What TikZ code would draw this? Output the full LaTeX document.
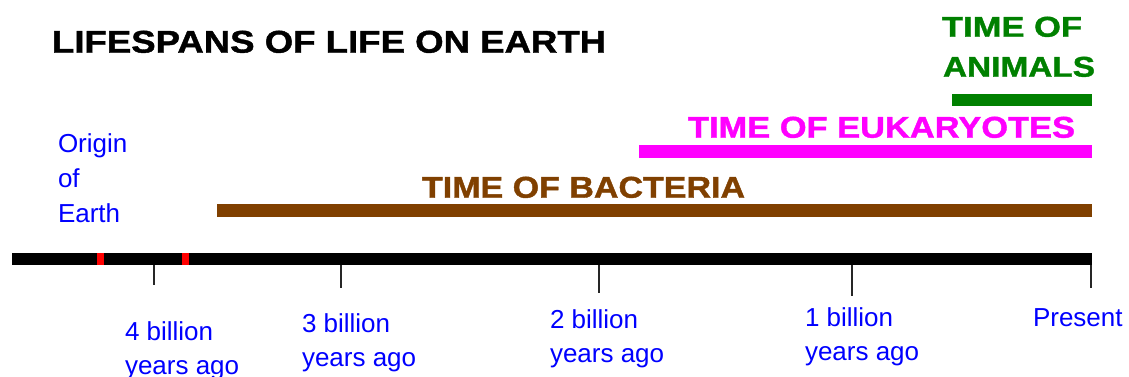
\documentclass[tikz,border=0pt]{standalone}
\usepackage{fontspec}
\usepackage{graphicx}
\setmainfont{Liberation Sans}
\newfontfamily\heavyfont[FakeBold=1.2]{Liberation Sans Bold}
\definecolor{tlblue}{RGB}{0,0,255}
\definecolor{bactbrown}{RGB}{128,64,0}
\definecolor{eukmag}{RGB}{255,0,255}
\definecolor{anigreen}{RGB}{0,128,0}
\definecolor{tlred}{RGB}{255,0,0}
\newcommand{\capsfit}[3]{\resizebox{#1pt}{#2pt}{\heavyfont #3}}
\begin{document}
\begin{tikzpicture}[x=1pt,y=-1pt,
  bar/.style={rectangle,inner sep=0pt,outer sep=0pt,anchor=north west},
  caps/.style={inner sep=0pt,outer sep=0pt,anchor=south west},
  bluetext/.style={inner sep=0pt,outer sep=0pt,anchor=base west,text=tlblue,font=\fontsize{26}{34}\selectfont,align=left},
  tick/.style={line width=2.8pt,black!85}]
\useasboundingbox[fill=white] (0,0) rectangle (1129,377);
% title
\node[caps] (title) at (52,53) {\capsfit{554}{22}{LIFESPANS OF LIFE ON EARTH}};
% bars
\node[bar,fill=black,minimum width=1080pt,minimum height=12pt] (timeline) at (12,253) {};
\node[bar,fill=tlred,minimum width=7pt,minimum height=12pt] (red1) at (97,253) {};
\node[bar,fill=tlred,minimum width=7pt,minimum height=12pt] (red2) at (182,253) {};
\node[bar,fill=bactbrown,minimum width=875pt,minimum height=13pt] (bact) at (217,204) {};
\node[bar,fill=eukmag,minimum width=453pt,minimum height=13pt] (euk) at (639,145) {};
\node[bar,fill=anigreen,minimum width=140pt,minimum height=12pt] (ani) at (952,94) {};
% bar labels
\node[caps,text=bactbrown] (bactlbl) at (422,198) {\capsfit{323}{21}{TIME OF BACTERIA}};
\node[caps,text=eukmag] (euklbl) at (688,138) {\capsfit{387}{21}{TIME OF EUKARYOTES}};
\node[caps,text=anigreen] (anilbl1) at (942,37) {\capsfit{140}{20}{TIME OF}};
\node[caps,text=anigreen] (anilbl2) at (943,77) {\capsfit{152}{20}{ANIMALS}};
% ticks
\coordinate (t4top) at (154,265); \coordinate (t4) at (154,285);
\coordinate (t3top) at (341,265); \coordinate (t3) at (341,288);
\coordinate (t2top) at (599,265); \coordinate (t2) at (599,293);
\coordinate (t1top) at (852,265); \coordinate (t1) at (852,296);
\coordinate (t0top) at (1091,265); \coordinate (t0) at (1091,288);
\draw[tick] (t4top) -- (t4);
\draw[tick] (t3top) -- (t3);
\draw[tick] (t2top) -- (t2);
\draw[tick] (t1top) -- (t1);
\draw[tick] (t0top) -- (t0);
% blue labels (base anchor = last line)
\node[bluetext,font=\fontsize{26}{35}\selectfont] (origin) at (58,222) {Origin\\of\\Earth};
\node[bluetext] (l4) at (125,374) {4 billion\\years ago};
\node[bluetext] (l3) at (302,366) {3 billion\\years ago};
\node[bluetext] (l2) at (550,362) {2 billion\\years ago};
\node[bluetext] (l1) at (805,360) {1 billion\\years ago};
\node[bluetext] (l0) at (1033,326) {Present};
\end{tikzpicture}
\end{document}
